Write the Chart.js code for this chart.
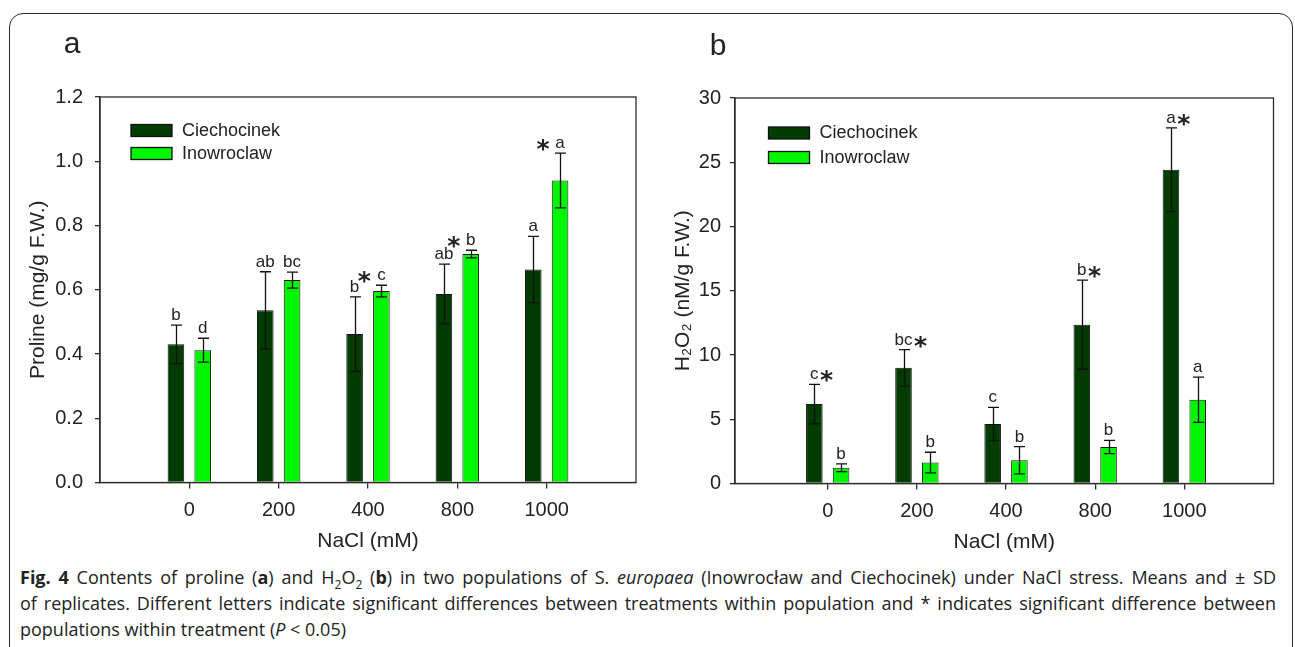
<!DOCTYPE html>
<html>
<head>
<meta charset="utf-8">
<script src="https://cdn.jsdelivr.net/npm/chart.js@4.4.1/dist/chart.umd.min.js"></script>
<style>
  body { margin: 0; background: #fff; }
  #page { position: relative; width: 1295px; height: 647px; overflow: hidden; background: #fff; }
  #frame { position: absolute; left: 9px; top: 13px; width: 1284px; height: 680px;
           border: 1.5px solid #2a2a2a; border-radius: 14px; box-sizing: border-box; }
  canvas { position: absolute; top: 0; }
  #chartA { left: 0; }
  #chartB { left: 650px; }
  #caption { position: absolute; left: 20px; top: 564px; width: 1256px;
             font-family: "Open Sans", sans-serif; font-size: 18px; line-height: 26px; color: #222; }
  #caption div { white-space: nowrap; }
  #caption .just { text-align: justify; text-align-last: justify; }
  #caption sub { font-size: 12px; line-height: 0; }
</style>
</head>
<body>
<div id="page">
  <div id="frame"></div>
  <canvas id="chartA" width="660" height="560"></canvas>
  <canvas id="chartB" width="645" height="560"></canvas>
  <div id="caption">
    <div class="just"><b>Fig. 4</b> Contents of proline (<b>a</b>) and H<sub>2</sub>O<sub>2</sub> (<b>b</b>) in two populations of S. <i>europaea</i> (Inowrocław and Ciechocinek) under NaCl stress. Means and ± SD</div>
    <div class="just">of replicates. Different letters indicate significant differences between treatments within population and * indicates significant difference between</div>
    <div>populations within treatment (<i>P</i> &lt; 0.05)</div>
  </div>
</div>
<script>
// NaCl treatments (mM)
const nacl = ['0', '200', '400', '800', '1000'];
const seriesNames = ['Ciechocinek', 'Inowroclaw'];
const seriesColors = ['#023c02', '#00f500'];

// proline, mg/g F.W. (mean, SD, letters)
const prolineCiech = [0.430, 0.536, 0.462, 0.587, 0.663];
const prolineCiechSd = [0.060, 0.120, 0.116, 0.093, 0.103];
const prolineIno = [0.412, 0.630, 0.596, 0.711, 0.940];
const prolineInoSd = [0.037, 0.025, 0.018, 0.012, 0.085];
const prolineCiechLetters = ['b', 'ab', 'b', 'ab', 'a'];
const prolineInoLetters = ['d', 'bc', 'c', 'b', 'a'];
const prolineStars = [false, false, true, true, true];
const prolineTicks = [0, 0.2, 0.4, 0.6, 0.8, 1.0, 1.2];

// H2O2, nM/g F.W.
const h2o2Ciech = [6.18, 9.00, 4.63, 12.36, 24.41];
const h2o2CiechSd = [1.53, 1.42, 1.30, 3.47, 3.26];
const h2o2Ino = [1.22, 1.63, 1.81, 2.84, 6.52];
const h2o2InoSd = [0.30, 0.80, 1.06, 0.52, 1.76];
const h2o2CiechLetters = ['c', 'bc', 'c', 'b', 'a'];
const h2o2InoLetters = ['b', 'b', 'b', 'b', 'a'];
const h2o2Stars = [true, true, false, true, true];
const h2o2Ticks = [0, 5, 10, 15, 20, 25, 30];

const INK = '#222';
const AXIS = '#2a2a2a';
const FONT = '"Liberation Sans", Arial, sans-serif';

function toPoints(values) {
  return values.map((v, i) => ({ x: i, y: v }));
}

// error bars, significance letters, asterisks, legend, frame and panel letter
const panelDecor = {
  id: 'panelDecor',
  afterDatasetsDraw(chart, args, opts) {
    const ctx = chart.ctx;
    const y = chart.scales.y;
    const area = chart.chartArea;
    const metas = chart.data.datasets.map((d, i) => chart.getDatasetMeta(i));
    const tops = [];

    ctx.save();
    ctx.strokeStyle = '#111';
    ctx.lineWidth = 1.3;
    chart.data.datasets.forEach((ds, di) => {
      tops[di] = [];
      metas[di].data.forEach((bar, i) => {
        const v = ds.data[i].y, sd = ds.sd[i];
        const yTop = y.getPixelForValue(v + sd);
        const yBot = y.getPixelForValue(v - sd);
        tops[di][i] = yTop;
        const x = Math.round(bar.x) + 0.5;
        ctx.beginPath();
        ctx.moveTo(x, yTop); ctx.lineTo(x, yBot);
        ctx.moveTo(x - 5.5, yTop); ctx.lineTo(x + 5.5, yTop);
        ctx.moveTo(x - 5.5, yBot); ctx.lineTo(x + 5.5, yBot);
        ctx.stroke();
      });
    });

    ctx.fillStyle = INK;
    ctx.textAlign = 'center';
    ctx.textBaseline = 'alphabetic';
    chart.data.datasets.forEach((ds, di) => {
      metas[di].data.forEach((bar, i) => {
        ctx.font = '17px ' + FONT;
        const base = tops[di][i] - 5;
        const txt = ds.letters[i];
        ctx.fillText(txt, bar.x, base);
        if (!opts.stars[i]) return;
        let sx = null;
        if (opts.starMode === 'between' && di === 1) {
          sx = bar.x - 17;
        } else if (opts.starMode === 'after' && di === 0) {
          sx = bar.x + ctx.measureText(txt).width / 2 + 8;
        }
        if (sx !== null) {
          ctx.font = 'bold 25px "DejaVu Sans", sans-serif';
          ctx.fillText('*', sx, base + 9);
        }
      });
    });

    // legend
    ctx.font = '18px ' + FONT;
    ctx.textAlign = 'left';
    ctx.textBaseline = 'middle';
    chart.data.datasets.forEach((ds, di) => {
      const bx = opts.legendX, by = opts.legendY + di * opts.legendStep;
      ctx.fillStyle = ds.backgroundColor;
      ctx.fillRect(bx, by, 41, 12);
      ctx.strokeStyle = '#111';
      ctx.lineWidth = 1.3;
      ctx.strokeRect(bx, by, 41, 12);
      ctx.fillStyle = INK;
      ctx.fillText(ds.label, bx + 51, by + 6.5);
    });

    // box around the plot area
    ctx.strokeStyle = AXIS;
    ctx.lineWidth = 1.3;
    ctx.strokeRect(area.left, area.top, area.right - area.left, area.bottom - area.top);

    // panel letter
    ctx.font = '30px ' + FONT;
    ctx.textAlign = 'center';
    ctx.textBaseline = 'alphabetic';
    ctx.fillStyle = INK;
    ctx.fillText(opts.letter, opts.letterX, opts.letterY);
    ctx.restore();
  }
};

function makePanel(canvasId, p) {
  return new Chart(document.getElementById(canvasId), {
    type: 'bar',
    data: {
      datasets: [
        { label: seriesNames[0], data: toPoints(p.ciech), sd: p.ciechSd, letters: p.ciechLetters,
          backgroundColor: seriesColors[0], borderColor: '#111', borderWidth: 1 },
        { label: seriesNames[1], data: toPoints(p.ino), sd: p.inoSd, letters: p.inoLetters,
          backgroundColor: seriesColors[1], borderColor: '#1a1a1a', borderWidth: 1 }
      ]
    },
    options: {
      responsive: false,
      animation: false,
      datasets: { bar: { categoryPercentage: 0.60, barPercentage: 0.62 } },
      layout: { padding: p.padding },
      scales: {
        x: {
          type: 'linear',
          min: p.xMin, max: 5,
          offset: false,
          afterBuildTicks: (axis) => { axis.ticks = nacl.map((_, i) => ({ value: i })); },
          afterFit: (s) => { s.height = 71; },
          ticks: { callback: (v) => nacl[v], color: INK, padding: 10,
                   font: { family: FONT, size: 20 }, maxRotation: 0, autoSkip: false },
          grid: { drawOnChartArea: false, drawTicks: true, tickLength: 6, offset: false,
                  color: AXIS, lineWidth: 1.3 },
          border: { display: true, color: AXIS, width: 1.3 },
          title: { display: true, text: 'NaCl (mM)', color: INK, padding: 0,
                   font: { family: FONT, size: 21 } }
        },
        y: {
          min: 0, max: p.yTicks[p.yTicks.length - 1],
          afterBuildTicks: (axis) => { axis.ticks = p.yTicks.map((v) => ({ value: v })); },
          afterFit: (s) => { s.width = p.yWidth; },
          ticks: { callback: p.tickFormat, color: INK, padding: p.yPad,
                   font: { family: FONT, size: 20 } },
          grid: { drawOnChartArea: false, drawTicks: true, tickLength: 5, color: AXIS, lineWidth: 1.3 },
          border: { display: true, color: AXIS, width: 1.3 },
          title: { display: true, text: p.yTitle, color: INK, padding: 0,
                   font: { family: FONT, size: 21 } }
        }
      },
      plugins: {
        legend: { display: false },
        tooltip: { enabled: false },
        panelDecor: p.decor
      }
    },
    plugins: [panelDecor]
  });
}

makePanel('chartA', {
  ciech: prolineCiech, ciechSd: prolineCiechSd, ciechLetters: prolineCiechLetters,
  ino: prolineIno, inoSd: prolineInoSd, inoLetters: prolineInoLetters,
  yTicks: prolineTicks, tickFormat: (v) => v.toFixed(1),
  yTitle: 'Proline (mg/g F.W.)', yWidth: 74, yPad: 12, xMin: -1,
  padding: { left: 26, right: 24, top: 97, bottom: 6.5 },
  decor: { stars: prolineStars, starMode: 'between', letter: 'a', letterX: 72, letterY: 53,
           legendX: 131, legendY: 124.5, legendStep: 23 }
});

makePanel('chartB', {
  ciech: h2o2Ciech, ciechSd: h2o2CiechSd, ciechLetters: h2o2CiechLetters,
  ino: h2o2Ino, inoSd: h2o2InoSd, inoLetters: h2o2InoLetters,
  yTicks: h2o2Ticks, tickFormat: (v) => String(v),
  yTitle: 'H₂O₂ (nM/g F.W.)', yWidth: 64, yPad: 9, xMin: -1.04,
  padding: { left: 21, right: 21.5, top: 98, bottom: 5.5 },
  decor: { stars: h2o2Stars, starMode: 'after', letter: 'b', letterX: 68, letterY: 55,
           legendX: 118.5, legendY: 127, legendStep: 24.5 }
});
</script>
</body>
</html>
